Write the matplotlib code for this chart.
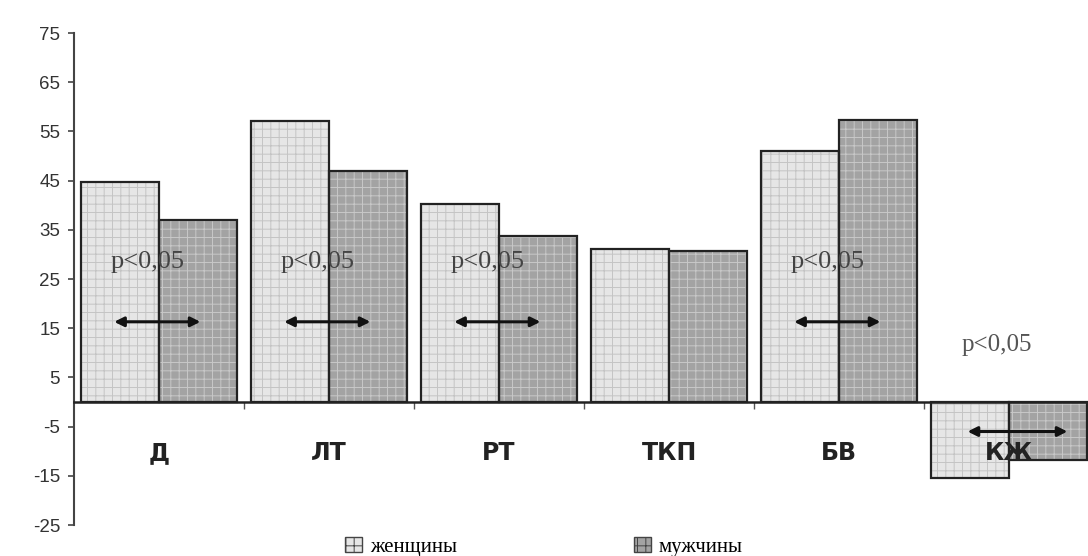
import numpy as np
import matplotlib
matplotlib.use("Agg")
from matplotlib import pyplot as plt
from matplotlib.patches import Patch

categories = ["Д", "ЛТ", "РТ", "ТКП", "БВ", "КЖ"]
women = [44.8, 57.2, 40.3, 31.0, 51.0, -15.4]
men = [37.0, 47.0, 33.8, 30.6, 57.4, -11.8]
significant = [True, True, True, False, True, True]
yticks = [-25, -15, -5, 5, 15, 25, 35, 45, 55, 65, 75]

plt.rcParams['axes.unicode_minus'] = False
plt.rcParams['hatch.linewidth'] = 0.7

fig = plt.figure(figsize=(10.88, 5.56), dpi=100)
ax = fig.add_axes([74 / 1088, (556 - 525) / 556, 1020 / 1088, 492 / 556])

x = np.arange(len(categories)) + 0.5
w = 0.46

# textured fill first, then crisp outlines on top
ax.bar(x - w / 2, women, w, color="#e6e6e6", edgecolor="#c4c4c4", hatch="++", linewidth=0)
ax.bar(x + w / 2, men, w, color="#a3a3a3", edgecolor="#c8c8c8", hatch="++", linewidth=0)
ax.bar(x - w / 2, women, w, fill=False, edgecolor="#222222", linewidth=1.6)
ax.bar(x + w / 2, men, w, fill=False, edgecolor="#222222", linewidth=1.6)

ax.set_xlim(0, len(categories))
ax.set_ylim(-25, 75)
ax.set_yticks(yticks)
ax.tick_params(axis="y", labelsize=13.5, labelcolor="#333333", length=4, width=1.2,
               colors="#444444", pad=6)
for lab in ax.get_yticklabels():
    lab.set_family("Liberation Sans")
for s in ["top", "right"]:
    ax.spines[s].set_visible(False)
ax.spines["left"].set_linewidth(1.5)
ax.spines["left"].set_color("#444444")
ax.spines["bottom"].set_position(("data", 0))
ax.spines["bottom"].set_linewidth(1.8)
ax.spines["bottom"].set_color("#222222")
ax.set_xticks(np.arange(1, len(categories)))
ax.set_xticklabels([])
ax.tick_params(axis="x", direction="out", length=5, width=1, colors="#555555")

for i, c in enumerate(categories):
    ax.text(x[i], -10.3, c, ha="center", va="center", fontsize=17, fontweight="bold",
            family="DejaVu Sans", color="#222222")

# significance markers
for i, sig in enumerate(significant):
    if not sig:
        continue
    if women[i] > 0:
        ty, ay = 28.5, 16.3
        ax.text(x[i] - 0.07, ty, "p<0,05", ha="center", va="center", fontsize=19,
                family="Liberation Serif", color="#444444")
        ax.annotate("", xy=(x[i] + 0.26, ay), xytext=(x[i] - 0.28, ay),
                    arrowprops=dict(arrowstyle="<|-|>", color="#111111", lw=2.2, mutation_scale=14))
    else:
        ax.text(x[i] - 0.07, 11.5, "p<0,05", ha="center", va="center", fontsize=18,
                family="Liberation Serif", color="#555555")
        ax.annotate("", xy=(x[i] + 0.36, -6), xytext=(x[i] - 0.26, -6),
                    arrowprops=dict(arrowstyle="<|-|>", color="#111111", lw=2.2, mutation_scale=14))

handles = [Patch(facecolor="#e6e6e6", edgecolor="#444444", hatch="++"),
           Patch(facecolor="#a3a3a3", edgecolor="#444444", hatch="++")]
fig.legend(handles, ["женщины", "мужчины"], loc="lower center", ncol=2,
           bbox_to_anchor=(0.5, -0.035), frameon=False, columnspacing=8.5,
           handlelength=0.8, handleheight=0.8, handletextpad=0.4,
           prop={"family": "Liberation Serif", "size": 15})

fig.savefig("out.png", dpi=100)
